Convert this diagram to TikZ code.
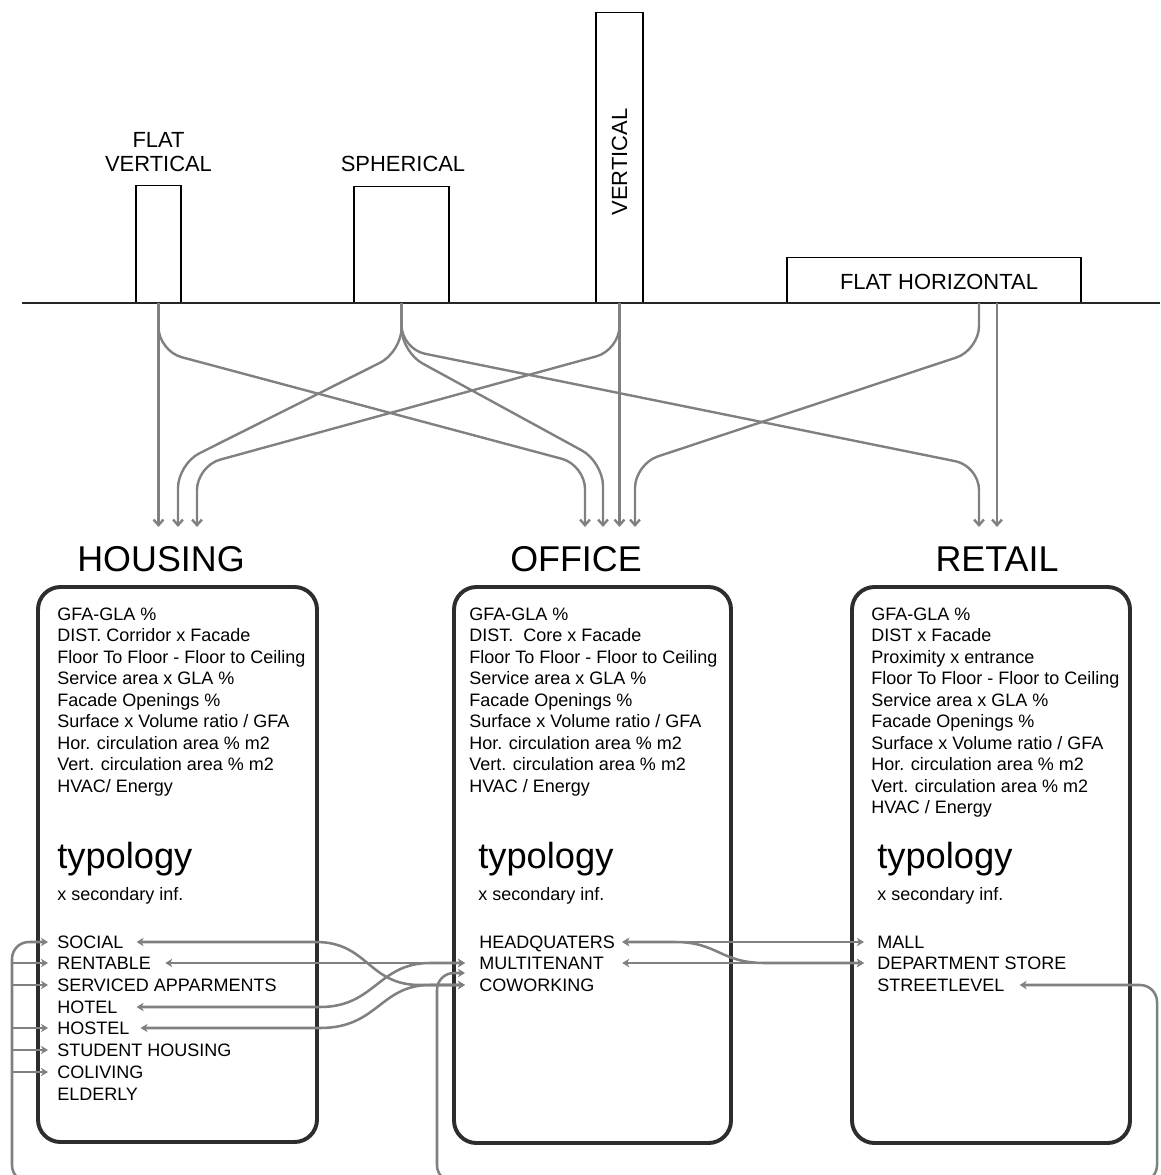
\documentclass[tikz,border=0pt]{standalone}
\usepackage{fontspec}
\setmainfont{Liberation Sans}
\usetikzlibrary{arrows.meta,calc}
\definecolor{linkgray}{RGB}{128,128,128}
\definecolor{panelgray}{RGB}{45,45,45}
\tikzset{
  ground/.style={black!85,line width=1.6pt},
  bldg/.style={draw=black,line width=1pt,fill=white,inner sep=0pt},
  panel/.style={draw=panelgray,line width=2.8pt,rounded corners=16pt},
  down/.style={draw=linkgray,line width=1.7pt,rounded corners=17pt,
               -{Straight Barb[length=4pt,width=7pt]}},
  link/.style={draw=linkgray,line width=1.8pt,
               {Stealth[length=5pt,width=6pt,inset=1.5pt]}-{Stealth[length=5pt,width=6pt,inset=1.5pt]}},
  feed/.style={draw=linkgray,line width=1.8pt,rounded corners=12pt,
               -{Stealth[length=5pt,width=6pt,inset=1.5pt]}},
  bus/.style={feed,{Stealth[length=5pt,width=6pt,inset=1.5pt]}-{Stealth[length=5pt,width=6pt,inset=1.5pt]}},
  formlab/.style={font=\fontsize{15.6}{17}\selectfont,align=center,inner sep=0pt},
  head/.style={font=\fontsize{25.5}{30}\selectfont,anchor=base,inner sep=0pt},
  metric/.style={anchor=west,inner sep=0pt,text height=9.2pt,text depth=0pt,
                 font=\fontsize{12.8}{15.6}\selectfont},
  item/.style={metric},
  typo/.style={anchor=base west,inner sep=0pt,font=\fontsize{25.8}{30}\selectfont},
  sec/.style={anchor=base west,inner sep=0pt,font=\fontsize{12.8}{15.6}\selectfont},
}

\begin{document}
\begin{tikzpicture}[x=0.025cm,y=-0.025cm]
  \path[use as bounding box] (0,0) rectangle (1160,1175);

  % building forms on the ground line
  \node[bldg,anchor=south,minimum width=45*0.025cm,minimum height=117*0.025cm] (fv) at (158.5,303) {};
  \node[bldg,anchor=south,minimum width=95*0.025cm,minimum height=116*0.025cm] (sp) at (401.5,303) {};
  \node[bldg,anchor=south,minimum width=47*0.025cm,minimum height=290*0.025cm] (vt) at (619.5,303) {};
  \node[bldg,anchor=south,minimum width=294*0.025cm,minimum height=45*0.025cm] (fh) at (934,303) {};
  \draw[ground] (22,303) -- (1160,303);

  \node[formlab] (fvlab) at (158.5,152) {FLAT\\VERTICAL};
  \node[formlab] (splab) at (403,164) {SPHERICAL};
  \node[formlab,rotate=90] (vtlab) at (619.5,162) {VERTICAL};
  \node[formlab] (fhlab) at (939,282) {FLAT HORIZONTAL};

  \coordinate (tips) at (0,527);
  \coordinate (h1) at (fv.south |- tips);
  \coordinate (h2) at (178,527);
  \coordinate (h3) at (197,527);
  \coordinate (o1) at (585,527);
  \coordinate (o2) at (603,527);
  \coordinate (o3) at (vt.south |- tips);
  \coordinate (o4) at (635,527);
  \coordinate (r1) at (979,527);
  \coordinate (r2) at (997,527);

  \draw[down] (fv.south) -- (h1);
  \draw[down] (fv.south) -- (158.5,351) -- (585,465) -- (o1);
  \draw[down] (sp.south) -- (401.5,352) -- (178,464) -- (h2);
  \draw[down] (sp.south) -- (401.5,352) -- (603,462) -- (o2);
  \draw[down] (sp.south) -- (401.5,349) -- (979,466) -- (r1);
  \draw[down] (vt.south) -- (o3);
  \draw[down] (vt.south) -- (619.5,350) -- (197,466) -- (h3);
  \draw[down] (fh.south -| r1) -- (979,350) -- (635,464) -- (o4);
  \draw[down] (fh.south -| r2) -- (r2);

  % programme panels
  \node[head] (housing) at (161,571) {HOUSING};
  \node[head] (office) at (576,571) {OFFICE};
  \node[head] (retail) at (997,571) {RETAIL};
  \draw[panel] (38,587) rectangle (317,1142);
  \draw[panel] (454,587) rectangle (731,1143);
  \draw[panel] (852,587) rectangle (1130,1143);

  \foreach \i/\txt in {1/{GFA-GLA \%},2/{DIST. Corridor x Facade},
      3/{Floor To Floor - Floor to Ceiling},4/{Service area x GLA \%},
      5/{Facade Openings \%},6/{Surface x Volume ratio / GFA},
      7/{Hor. circulation area \% m2},8/{Vert. circulation area \% m2},
      9/{HVAC/ Energy}}
    \node[metric] (hm\i) at (57,{614+21.5*(\i-1)}) {\txt};
  \foreach \i/\txt in {1/{GFA-GLA \%},2/{DIST.\ \ Core x Facade},
      3/{Floor To Floor - Floor to Ceiling},4/{Service area x GLA \%},
      5/{Facade Openings \%},6/{Surface x Volume ratio / GFA},
      7/{Hor. circulation area \% m2},8/{Vert. circulation area \% m2},
      9/{HVAC / Energy}}
    \node[metric] (om\i) at (469,{614+21.5*(\i-1)}) {\txt};
  \foreach \i/\txt in {1/{GFA-GLA \%},2/{DIST x Facade},3/{Proximity x entrance},
      4/{Floor To Floor - Floor to Ceiling},5/{Service area x GLA \%},
      6/{Facade Openings \%},7/{Surface x Volume ratio / GFA},
      8/{Hor. circulation area \% m2},9/{Vert. circulation area \% m2},
      10/{HVAC / Energy}}
    \node[metric] (rm\i) at (871,{614+21.5*(\i-1)}) {\txt};

  \node[typo] (htypo) at (57,868) {typology};
  \node[sec] (hsec) at (57,900) {x secondary inf.};
  \node[typo] (otypo) at (478,868) {typology};
  \node[sec] (osec) at (478,900) {x secondary inf.};
  \node[typo] (rtypo) at (877,868) {typology};
  \node[sec] (rsec) at (877,900) {x secondary inf.};

  % typologies
  \foreach \n/\y/\txt in {social/942/SOCIAL,rentable/963/RENTABLE,
      serviced/985/SERVICED APPARMENTS,hotel/1007/HOTEL,hostel/1028/HOSTEL,
      student/1050/STUDENT HOUSING,coliving/1072/COLIVING,elderly/1094/ELDERLY}
    \node[item] (\n) at (57,\y) {\txt};
  \foreach \n/\y/\txt in {hq/942/HEADQUATERS,multi/963/MULTITENANT,cowork/985/COWORKING}
    \node[item] (\n) at (479,\y) {\txt};
  \foreach \n/\y/\txt in {mall/942/MALL,dept/963/DEPARTMENT STORE,street/985/STREETLEVEL}
    \node[item] (\n) at (877,\y) {\txt};

  \draw[link] ($(social.east)+(13,0)$) -- (316,942)
    .. controls (368,942) and (368,985) .. (420,985) -- ($(cowork.west)+(-14,0)$);
  \draw[link] ($(rentable.east)+(14,0)$) -- ($(multi.west)+(-14,0)$);
  \draw[link] ($(hotel.east)+(19,0)$) -- (320,1007)
    .. controls (375,1007) and (378,963) .. (430,963) -- ($(multi.west)+(-14,0)$);
  \draw[link] ($(hostel.east)+(11,0)$) -- (320,1028)
    .. controls (378,1028) and (380,985) .. (430,985) -- ($(cowork.west)+(-14,0)$);

  \draw[link] ($(hq.east)+(7,0)$) -- ($(mall.west)+(-13,0)$);
  \draw[link] ($(hq.east)+(7,0)$) -- (675,942)
    .. controls (718,942) and (720,963) .. (765,963) -- ($(dept.west)+(-13,0)$);
  \draw[link] ($(multi.east)+(18,0)$) -- ($(dept.west)+(-13,0)$);

  % loop along the bottom edge
  \coordinate (busy) at (0,1182);
  \coordinate (hb) at (12,0);
  \coordinate (ob) at (437,0);
  \draw[bus] ($(street.east)+(15,0)$) -- (1157,985) -- (1157,1182)
    -- (hb |- busy) -- (hb |- social.west) -- ($(social.west)+(-9,0)$);
  \foreach \n in {rentable,serviced,hostel,student,coliving}
    \draw[feed] (hb |- \n.west) -- ($(\n.west)+(-9,0)$);
  \draw[feed] (480,1182) -- (ob |- busy) -- (437,973) -- (465,973);
\end{tikzpicture}
\end{document}
